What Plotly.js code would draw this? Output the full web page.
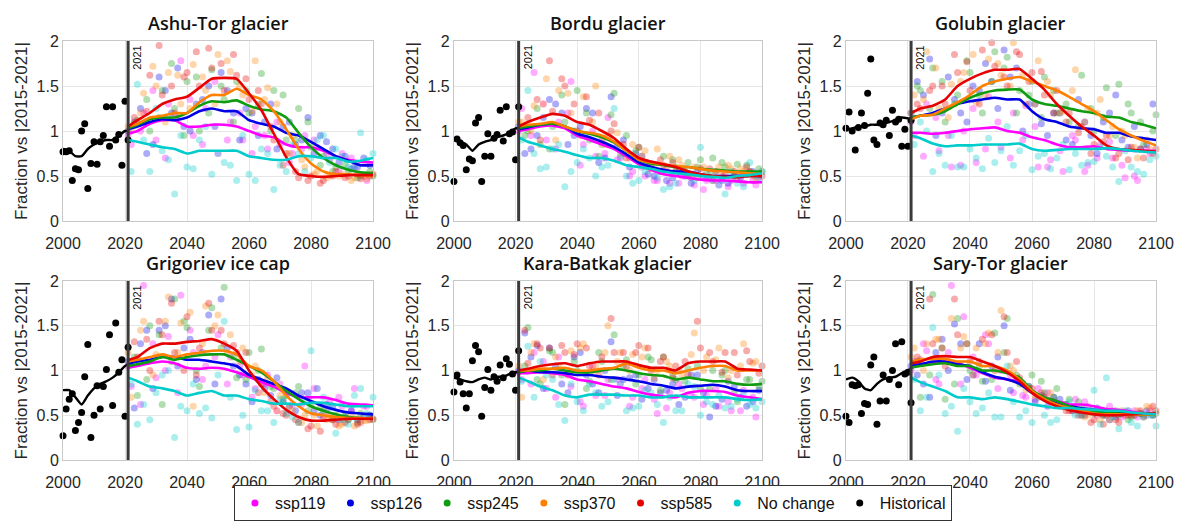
<!DOCTYPE html>
<html><head><meta charset="utf-8">
<script src="https://cdn.plot.ly/plotly-3.0.1.min.js"></script>
<style>html,body{margin:0;padding:0;background:#fff}#chart{width:1180px;height:521px}</style>
</head><body><div id="chart"></div><script>
const glaciers = ['Ashu-Tor glacier','Bordu glacier','Golubin glacier','Grigoriev ice cap','Kara-Batkak glacier','Sary-Tor glacier'];
const scenarios = ['ssp119','ssp126','ssp245','ssp370','ssp585','No change'];
const histYears = [2000,2001,2002,2003,2004,2005,2006,2007,2008,2009,2010,2011,2012,2013,2014,2015,2016,2017,2018,2019,2020,2021];
const histLineYears = [2000,2002,2004,2006,2008,2010,2012,2014,2016,2018,2020,2021];
const lineYears = [2021,2024,2028,2032,2036,2040,2044,2048,2052,2056,2060,2064,2068,2072,2076,2080,2084,2088,2092,2096,2100];
const yrsA = [2022,2026,2030,2034,2038,2042,2046,2050,2054,2058,2062,2066,2070,2074,2078,2082,2086,2090,2094,2098];
const yrsB = [2023,2027,2031,2035,2039,2043,2047,2051,2055,2059,2063,2067,2071,2075,2079,2083,2087,2091,2095,2099];
const yrsC = [2024,2028,2032,2036,2040,2044,2048,2052,2056,2060,2064,2068,2072,2076,2080,2084,2088,2092,2096,2100];
const yrsD = [2021,2025,2029,2033,2037,2041,2045,2049,2053,2057,2061,2065,2069,2073,2077,2081,2085,2089,2093,2097];
const xTicks = [2000,2020,2040,2060,2080,2100];
const yTicks = [0,0.5,1,1.5,2];

const hist_dots = [
 [0.77,0.77,0.78,0.45,0.58,0.57,1.0,1.08,0.36,0.64,0.88,0.63,0.88,0.95,1.27,0.83,1.27,0.9,0.96,0.62,1.33,0.9],
 [0.44,0.91,0.87,0.84,0.57,0.69,0.67,1.09,1.15,0.44,0.72,0.97,0.72,0.92,0.96,1.23,0.89,1.27,0.97,0.99,0.68,1.27],
 [1.03,1.21,1.0,0.79,1.04,1.2,1.06,1.42,1.8,0.9,0.85,1.09,1.07,1.12,0.95,1.23,1.1,1.13,0.83,1.02,0.83,1.12],
 [0.27,0.57,0.68,0.74,0.33,0.42,0.53,0.93,1.29,0.25,0.5,0.83,0.57,0.82,1.01,1.4,0.61,1.53,0.98,1.12,0.49,1.26],
 [0.76,0.95,0.87,0.74,0.58,0.74,1.11,1.28,1.21,0.49,0.81,1.01,0.78,0.93,0.88,1.06,0.92,1.13,1.07,0.96,0.78,1.22],
 [0.49,0.42,0.84,0.83,0.84,0.52,0.63,0.62,1.06,1.15,0.4,0.66,0.95,0.66,0.9,1.0,1.3,0.84,1.32,0.96,0.98,0.64]
];
const hist_line = [
 [0.8,0.78,0.72,0.72,0.8,0.85,0.88,0.9,0.9,0.95,1.0,1.0],
 [0.9,0.88,0.85,0.78,0.85,0.88,0.9,0.93,0.95,0.98,1.03,1.03],
 [1.02,1.03,1.05,1.05,1.07,1.07,1.08,1.1,1.12,1.15,1.14,1.13],
 [0.78,0.78,0.7,0.62,0.72,0.8,0.85,0.88,0.92,0.98,1.05,1.07],
 [0.92,0.9,0.88,0.87,0.9,0.92,0.9,0.93,0.93,0.96,0.98,0.98],
 [0.9,0.92,0.88,0.8,0.78,0.85,0.9,0.92,0.93,0.97,1.0,1.02]
];

const line_ssp119 = [
 [0.97,1.0,1.08,1.12,1.12,1.05,1.05,1.07,1.07,1.05,1.0,0.95,0.93,0.85,0.82,0.82,0.78,0.72,0.68,0.66,0.65],
 [1.0,1.02,1.05,1.06,1.03,0.95,0.9,0.85,0.8,0.72,0.63,0.57,0.52,0.5,0.48,0.46,0.45,0.45,0.44,0.43,0.43],
 [0.98,0.98,0.97,0.98,1.0,1.02,1.03,1.04,1.0,0.98,0.93,0.9,0.85,0.82,0.82,0.83,0.8,0.79,0.78,0.78,0.78],
 [1.03,1.05,1.08,1.1,1.08,1.03,1.02,1.03,1.02,0.98,0.93,0.87,0.82,0.75,0.7,0.7,0.7,0.67,0.63,0.62,0.61],
 [0.97,0.97,0.98,0.97,0.95,0.9,0.88,0.85,0.82,0.8,0.76,0.73,0.71,0.7,0.75,0.77,0.77,0.76,0.72,0.7,0.68],
 [1.05,1.07,1.08,1.1,1.08,1.03,0.97,0.92,0.9,0.87,0.77,0.7,0.66,0.62,0.62,0.6,0.57,0.56,0.54,0.52,0.51]
];
const line_ssp126 = [
 [1.02,1.05,1.1,1.13,1.12,1.15,1.22,1.25,1.22,1.22,1.12,1.08,1.05,0.98,0.95,0.88,0.8,0.72,0.67,0.62,0.62],
 [1.02,1.04,1.07,1.08,1.05,0.97,0.93,0.88,0.82,0.74,0.65,0.6,0.57,0.55,0.55,0.52,0.5,0.5,0.5,0.5,0.5],
 [1.15,1.17,1.2,1.25,1.3,1.33,1.35,1.37,1.35,1.35,1.22,1.13,1.1,1.05,1.03,1.02,0.98,0.98,0.94,0.92,0.9],
 [1.07,1.1,1.12,1.15,1.15,1.12,1.12,1.1,1.08,1.05,0.95,0.9,0.85,0.8,0.72,0.66,0.6,0.56,0.53,0.52,0.51],
 [0.98,1.0,0.98,0.98,0.97,0.95,0.95,0.93,0.92,0.9,0.88,0.85,0.83,0.8,0.82,0.83,0.84,0.82,0.78,0.77,0.77],
 [1.05,1.07,1.1,1.1,1.07,1.05,0.98,0.93,0.9,0.85,0.75,0.68,0.63,0.6,0.58,0.56,0.55,0.53,0.52,0.51,0.51]
];
const line_ssp245 = [
 [1.03,1.07,1.13,1.15,1.15,1.2,1.28,1.33,1.32,1.34,1.28,1.24,1.22,1.15,0.98,0.82,0.7,0.62,0.57,0.54,0.53],
 [1.03,1.05,1.07,1.08,1.05,1.0,0.97,0.93,0.87,0.78,0.68,0.64,0.62,0.6,0.6,0.58,0.57,0.56,0.55,0.55,0.55],
 [1.15,1.17,1.18,1.22,1.3,1.37,1.42,1.45,1.46,1.46,1.35,1.3,1.28,1.25,1.22,1.2,1.16,1.15,1.1,1.07,1.03],
 [1.05,1.07,1.1,1.15,1.12,1.15,1.17,1.18,1.18,1.12,1.05,0.98,0.88,0.77,0.68,0.6,0.55,0.51,0.48,0.47,0.46],
 [0.98,1.0,1.0,1.02,1.0,0.98,0.98,1.0,1.02,1.0,0.97,0.95,0.94,0.9,0.92,0.9,0.88,0.88,0.85,0.84,0.85],
 [1.03,1.05,1.07,1.08,1.05,1.05,1.0,1.0,0.97,0.92,0.78,0.7,0.66,0.6,0.56,0.54,0.53,0.52,0.51,0.51,0.51]
];
const line_ssp370 = [
 [1.05,1.08,1.15,1.17,1.2,1.2,1.32,1.4,1.4,1.47,1.4,1.35,1.22,1.02,0.8,0.64,0.55,0.52,0.52,0.51,0.5],
 [1.05,1.07,1.08,1.1,1.05,1.0,0.98,0.95,0.88,0.78,0.68,0.65,0.63,0.61,0.6,0.58,0.56,0.55,0.54,0.53,0.52],
 [1.13,1.17,1.18,1.25,1.32,1.4,1.5,1.55,1.58,1.6,1.55,1.5,1.45,1.38,1.3,1.22,1.12,1.02,0.95,0.89,0.84],
 [1.1,1.12,1.15,1.18,1.15,1.18,1.2,1.22,1.22,1.18,1.05,1.0,0.88,0.72,0.6,0.52,0.5,0.48,0.47,0.47,0.46],
 [1.0,1.0,1.02,1.02,1.03,1.0,1.0,1.02,1.03,1.08,1.03,1.0,1.0,0.97,1.0,1.03,1.05,1.05,1.0,1.0,1.0],
 [1.1,1.12,1.13,1.13,1.1,1.1,1.05,1.05,1.0,0.9,0.77,0.68,0.62,0.58,0.55,0.52,0.51,0.51,0.51,0.51,0.51]
];
const line_ssp585 = [
 [1.05,1.12,1.2,1.3,1.35,1.38,1.48,1.58,1.59,1.58,1.42,1.23,0.97,0.71,0.52,0.5,0.49,0.5,0.51,0.51,0.51],
 [1.05,1.1,1.15,1.19,1.17,1.1,1.07,1.0,0.92,0.8,0.7,0.66,0.63,0.6,0.55,0.52,0.5,0.49,0.49,0.5,0.5],
 [1.2,1.25,1.28,1.35,1.5,1.58,1.64,1.68,1.68,1.69,1.58,1.46,1.3,1.17,1.05,0.95,0.84,0.8,0.79,0.78,0.77],
 [1.12,1.15,1.25,1.3,1.3,1.32,1.33,1.35,1.3,1.22,1.0,0.82,0.68,0.56,0.48,0.44,0.44,0.45,0.46,0.46,0.46],
 [1.0,1.02,1.05,1.07,1.08,1.05,1.08,1.1,1.1,1.1,1.06,1.03,1.03,1.0,1.08,1.1,1.1,1.1,1.02,1.01,1.0],
 [1.08,1.1,1.15,1.16,1.15,1.15,1.1,1.05,0.98,0.88,0.75,0.66,0.6,0.56,0.53,0.51,0.5,0.5,0.51,0.52,0.52]
];
const line_none = [
 [0.9,0.88,0.85,0.82,0.8,0.75,0.78,0.78,0.78,0.78,0.72,0.7,0.68,0.68,0.72,0.72,0.7,0.7,0.66,0.67,0.7],
 [0.93,0.88,0.84,0.8,0.77,0.73,0.7,0.7,0.67,0.62,0.6,0.58,0.55,0.53,0.52,0.5,0.49,0.48,0.5,0.51,0.53],
 [0.95,0.92,0.86,0.83,0.84,0.84,0.85,0.85,0.85,0.86,0.8,0.78,0.79,0.8,0.8,0.8,0.81,0.8,0.78,0.77,0.76],
 [0.92,0.88,0.82,0.8,0.77,0.72,0.75,0.77,0.72,0.72,0.68,0.66,0.63,0.63,0.62,0.64,0.64,0.62,0.6,0.6,0.6],
 [0.92,0.88,0.82,0.78,0.72,0.7,0.73,0.73,0.73,0.72,0.72,0.7,0.7,0.72,0.7,0.7,0.7,0.7,0.68,0.67,0.68],
 [0.92,0.87,0.82,0.77,0.7,0.7,0.68,0.7,0.68,0.65,0.62,0.6,0.58,0.58,0.57,0.56,0.55,0.55,0.53,0.52,0.51]
];

const dots_ssp119 = [
 [0.85,1.2,0.9,1.3,1.78,0.95,1.25,0.75,1.1,0.9,1.05,0.8,0.85,0.75,0.95,0.82,0.68,0.75,0.6,0.45],
 [1.25,1.65,0.9,1.1,1.55,0.85,0.72,1.15,0.7,0.55,0.5,0.45,0.42,0.5,0.4,0.45,0.4,0.45,0.42,0.4],
 [0.95,1.3,0.78,0.6,1.0,0.65,1.38,0.82,1.2,1.28,0.6,0.68,0.55,0.9,0.62,0.85,0.7,0.48,0.45,0.75],
 [0.82,1.95,0.92,1.38,1.84,1.2,1.05,1.4,1.15,0.95,0.8,0.95,0.85,0.62,1.05,0.8,0.65,0.6,0.8,0.6],
 [0.9,1.2,0.8,1.15,0.82,0.6,0.72,0.9,0.85,0.7,0.9,0.52,0.75,0.8,0.7,0.72,0.6,0.55,0.78,0.48],
 [1.1,1.22,0.85,1.95,1.6,0.95,1.3,1.0,0.75,0.7,0.8,0.65,0.62,0.68,0.6,0.52,0.55,0.5,0.48,0.55]
];
const dots_ssp126 = [
 [1.1,0.75,1.6,1.2,1.05,1.3,1.5,1.65,1.2,1.25,0.95,1.3,1.05,0.85,1.15,0.95,0.8,0.72,0.6,0.62],
 [0.75,0.95,1.35,1.2,0.95,1.25,0.65,1.38,0.9,0.75,0.52,0.55,0.48,0.5,0.55,0.48,0.45,0.5,0.52,0.48],
 [1.55,1.8,1.2,1.35,1.1,1.45,1.55,1.9,1.7,1.3,1.08,1.2,0.9,1.35,0.95,1.1,1.4,0.82,0.8,1.3],
 [0.58,1.45,1.45,1.8,1.25,0.9,1.62,1.8,1.05,0.85,0.9,0.72,0.65,0.55,0.75,0.5,0.6,0.48,0.45,0.5],
 [1.42,1.28,1.25,0.85,1.15,0.95,0.75,1.32,0.9,0.95,0.8,0.75,0.85,0.7,0.95,0.48,0.68,0.82,0.6,0.78],
 [0.95,0.7,1.35,1.52,0.9,1.3,1.05,1.5,0.9,0.82,0.72,0.7,0.62,0.55,0.55,0.5,0.48,0.55,0.52,0.5]
];
const dots_ssp245 = [
 [1.12,1.0,1.45,1.25,1.55,1.0,1.68,1.35,1.55,1.2,1.64,1.45,0.9,1.25,0.82,0.72,0.6,0.55,0.5,0.5],
 [1.0,0.85,1.05,1.1,1.45,0.9,0.85,1.42,0.95,0.82,0.62,0.72,0.6,0.65,0.68,0.7,0.6,0.63,0.55,0.55],
 [1.45,1.7,1.1,1.4,1.65,1.2,1.88,1.82,1.45,1.55,1.6,1.2,1.1,1.62,1.0,1.48,1.52,1.2,0.85,1.18],
 [0.72,1.5,0.62,1.8,1.48,0.82,1.7,1.93,0.92,1.2,1.24,0.8,0.72,0.82,0.62,0.55,0.5,0.45,0.52,0.45],
 [1.48,0.85,1.2,0.62,1.0,0.88,1.1,1.4,1.12,0.95,1.12,1.15,0.9,1.02,0.8,1.0,1.0,0.65,0.9,0.88],
 [0.7,1.85,0.68,1.58,1.0,0.88,1.42,1.58,0.85,0.95,0.75,0.8,0.68,0.58,0.52,0.55,0.5,0.48,0.5,0.52]
];
const dots_ssp370 = [
 [1.0,1.42,1.5,1.65,1.3,1.74,1.45,1.85,1.66,1.4,1.78,1.48,1.1,0.95,0.6,0.55,0.5,0.52,0.48,0.47],
 [1.1,1.28,1.58,1.45,1.2,1.38,1.5,0.95,0.75,0.85,0.78,0.8,0.72,0.62,0.6,0.55,0.6,0.58,0.55,0.48],
 [1.4,1.88,1.25,1.52,1.65,1.32,1.8,1.62,1.98,1.3,1.78,1.4,1.22,1.68,1.25,1.35,1.05,0.95,0.7,0.8],
 [0.7,1.55,1.18,1.82,1.53,0.6,1.72,1.62,1.4,1.25,1.05,0.9,0.72,0.55,0.5,0.38,0.5,0.4,0.38,0.44],
 [0.7,1.3,1.0,1.05,1.22,1.3,1.05,1.5,1.2,1.18,1.25,1.0,1.05,0.95,1.42,1.15,1.25,1.0,1.3,1.1],
 [1.25,1.3,1.35,1.58,1.38,1.25,1.42,1.67,1.0,0.78,0.7,0.75,0.62,0.6,0.5,0.45,0.52,0.5,0.55,0.58]
];
const dots_ssp585 = [
 [1.15,1.22,1.95,1.5,1.6,1.88,1.92,1.75,1.85,1.58,1.45,1.05,0.62,0.55,0.45,0.42,0.5,0.48,0.52,0.5],
 [1.05,1.35,1.78,1.58,1.3,1.38,1.2,1.0,0.85,0.7,0.62,0.68,0.65,0.55,0.48,0.58,0.5,0.55,0.6,0.52],
 [1.3,1.45,1.5,1.85,1.77,1.3,1.98,1.6,1.88,1.55,1.66,1.2,1.1,0.98,0.75,0.88,0.7,0.68,0.8,0.75],
 [1.32,1.35,1.55,1.75,1.0,0.95,1.75,1.45,1.28,1.2,0.75,0.65,0.52,0.45,0.35,0.32,0.45,0.42,0.4,0.45],
 [1.45,1.3,1.25,1.28,1.18,1.25,0.95,1.58,1.2,1.2,1.25,1.1,0.92,1.1,1.55,1.2,0.98,1.2,1.22,0.97],
 [1.15,1.8,1.25,1.8,1.3,1.1,1.4,1.6,1.1,0.8,0.75,0.65,0.55,0.5,0.42,0.4,0.45,0.5,0.55,0.6]
];
const dots_none = [
 [1.52,0.55,0.78,0.3,0.6,0.9,0.52,0.65,0.45,0.52,0.8,0.35,0.55,0.75,0.7,0.95,0.8,0.6,0.98,0.75],
 [1.45,0.58,0.8,0.38,0.65,0.7,0.6,1.25,0.5,0.45,0.6,0.35,0.42,0.5,0.82,0.45,0.3,0.42,0.65,0.55],
 [1.1,0.55,0.62,0.6,0.8,0.58,0.65,1.05,0.78,0.57,0.75,0.7,0.57,0.62,0.66,0.72,0.44,0.6,0.52,0.72],
 [0.4,0.45,0.95,0.25,0.55,0.52,0.47,1.55,0.34,0.37,0.55,0.42,0.52,0.42,1.22,0.7,0.3,0.4,0.8,0.7],
 [1.27,1.1,0.9,0.44,0.65,0.85,0.6,0.9,0.55,0.6,0.75,0.42,0.55,0.85,0.5,0.62,0.58,0.68,0.62,0.65],
 [0.55,1.48,0.52,0.32,0.65,0.58,0.48,1.05,0.48,0.42,0.5,0.45,0.65,0.5,0.78,0.92,0.35,0.42,0.48,0.38]
];

const dots2_ssp119 = [
 [0.95,1.0,1.45,0.7,1.15,1.35,0.85,1.55,0.9,1.2,0.75,0.95,1.1,0.65,0.8,0.9,0.75,0.55,0.7,0.5],
 [1.0,0.95,1.3,0.8,1.2,0.62,1.0,0.75,0.68,0.5,0.6,0.45,0.55,0.42,0.48,0.35,0.45,0.38,0.5,0.45],
 [1.1,0.72,1.15,0.95,0.62,1.25,0.8,1.1,0.7,0.9,1.05,0.6,0.78,0.95,0.55,0.7,0.88,0.62,0.5,0.8],
 [1.05,0.62,1.3,1.0,0.75,1.45,0.9,1.15,0.85,1.05,0.7,0.85,0.55,0.75,0.62,0.8,0.55,0.7,0.55,0.6],
 [0.98,0.85,1.1,0.7,0.95,0.65,1.05,0.72,0.9,0.6,0.8,0.68,0.58,0.85,0.72,0.62,0.8,0.65,0.55,0.7],
 [1.0,1.3,0.9,1.2,0.85,1.15,1.4,0.8,0.95,0.72,0.68,0.75,0.6,0.55,0.65,0.5,0.6,0.48,0.55,0.5]
];
const dots2_ssp126 = [
 [1.0,1.25,0.85,1.45,1.7,1.0,1.35,1.05,1.45,0.9,1.2,1.1,0.8,1.1,0.9,0.75,0.88,0.65,0.58,0.7],
 [1.05,0.8,1.15,1.3,0.85,1.05,1.2,0.7,0.85,0.6,0.72,0.5,0.45,0.55,0.42,0.5,0.55,0.42,0.48,0.55],
 [1.2,1.4,0.95,1.6,1.2,1.5,1.75,1.25,1.6,1.0,1.3,0.95,1.2,0.85,1.1,0.75,1.2,0.9,1.05,0.85],
 [1.1,1.3,0.8,1.5,1.05,1.35,1.2,0.85,1.25,0.95,0.65,0.8,0.92,0.6,0.75,0.55,0.62,0.45,0.55,0.48],
 [1.0,1.15,0.8,1.05,0.75,1.2,0.85,1.0,0.72,0.92,0.68,0.9,0.78,0.62,0.95,0.75,0.6,0.88,0.7,0.65],
 [1.05,0.85,1.2,1.0,1.3,0.95,0.88,1.15,0.78,0.85,0.65,0.6,0.68,0.55,0.5,0.58,0.45,0.52,0.5,0.55]
];
const dots2_ssp245 = [
 [1.08,1.35,1.15,1.75,0.95,1.6,1.2,1.5,1.1,1.45,1.3,1.0,1.4,0.9,1.1,0.62,0.55,0.62,0.48,0.55],
 [0.95,1.25,0.8,1.4,1.0,1.2,0.72,1.18,0.75,0.78,0.6,0.55,0.68,0.55,0.6,0.52,0.65,0.5,0.62,0.58],
 [1.5,1.25,1.55,1.3,1.78,1.4,1.55,1.7,1.2,1.4,1.15,1.45,1.3,1.05,1.25,1.15,0.95,1.3,1.1,1.0],
 [1.15,0.9,1.4,1.1,1.55,1.0,1.45,1.25,1.15,0.9,1.0,0.82,0.68,0.75,0.55,0.6,0.45,0.5,0.42,0.5],
 [1.05,0.9,1.22,0.95,1.1,0.8,1.2,0.9,1.05,0.85,1.15,0.78,0.95,0.88,1.05,0.8,0.95,0.75,0.9,0.82],
 [1.1,0.95,1.25,0.85,1.3,1.05,0.9,1.2,0.95,0.82,0.88,0.7,0.62,0.65,0.55,0.5,0.55,0.45,0.52,0.5]
];
const dots2_ssp370 = [
 [1.05,1.2,1.72,1.1,1.62,1.25,1.6,1.3,1.78,1.5,1.22,1.35,1.3,0.75,0.68,0.52,0.48,0.5,0.45,0.5],
 [1.1,1.0,1.3,0.9,1.42,0.95,1.1,0.85,0.98,0.7,0.72,0.62,0.58,0.68,0.52,0.6,0.55,0.62,0.58,0.5],
 [1.2,1.35,1.7,1.15,1.55,1.85,1.4,1.75,1.5,1.62,1.3,1.55,1.2,1.45,1.1,1.2,0.95,1.0,0.82,0.9],
 [1.2,1.45,0.95,1.55,1.2,1.65,1.3,1.5,1.2,1.1,0.95,0.75,0.55,0.6,0.42,0.5,0.45,0.38,0.5,0.44],
 [1.05,1.2,0.9,1.15,0.95,1.25,1.0,1.2,1.1,1.0,1.15,0.92,1.1,1.0,1.18,1.0,1.12,0.92,1.05,1.08],
 [1.15,1.0,1.35,1.1,1.25,0.95,1.3,1.2,1.05,0.85,0.72,0.68,0.6,0.55,0.48,0.52,0.45,0.55,0.5,0.6]
];
const dots2_ssp585 = [
 [1.08,1.62,1.4,1.2,1.65,1.5,1.7,1.45,1.62,1.35,1.3,0.9,0.75,0.48,0.5,0.45,0.55,0.5,0.47,0.52],
 [1.15,0.9,1.22,1.5,1.0,1.12,0.9,1.08,0.7,0.82,0.58,0.62,0.55,0.5,0.58,0.45,0.52,0.48,0.55,0.5],
 [1.25,1.5,1.3,1.65,1.45,1.9,1.72,1.5,1.85,1.65,1.4,1.45,1.2,1.05,0.85,0.95,0.75,0.82,0.7,0.8],
 [1.15,1.0,1.4,1.2,1.6,1.25,1.45,1.3,1.2,0.95,0.85,0.6,0.5,0.42,0.38,0.48,0.4,0.45,0.42,0.46],
 [1.08,1.25,0.95,1.2,1.3,1.05,1.15,1.2,1.05,1.28,1.0,1.15,1.05,0.95,1.25,1.1,1.2,0.95,1.1,1.05],
 [1.12,1.3,1.05,1.4,1.1,1.35,1.0,1.2,0.92,0.8,0.7,0.62,0.55,0.5,0.45,0.5,0.42,0.5,0.48,0.55]
];
const dots2_none = [
 [0.55,0.9,1.25,0.68,0.95,0.58,1.05,0.75,0.62,0.95,0.45,0.75,0.62,0.85,0.55,0.9,0.65,0.72,0.6,0.68],
 [0.9,0.75,0.6,0.85,0.55,0.8,0.5,0.62,0.72,0.42,0.55,0.48,0.38,0.55,0.45,0.52,0.4,0.55,0.38,0.5],
 [0.85,1.0,0.75,0.95,0.6,0.7,0.92,0.78,0.62,0.95,0.72,0.58,0.85,0.75,0.65,0.82,0.6,0.78,0.55,0.68],
 [0.85,0.62,0.75,1.0,0.6,0.85,0.58,0.95,0.7,0.5,0.78,0.55,0.68,0.48,0.65,0.8,0.58,0.45,0.72,0.52],
 [0.88,0.7,0.95,0.62,0.85,0.55,0.75,0.65,0.85,0.58,0.78,0.62,0.7,0.55,0.82,0.65,0.72,0.6,0.75,0.58],
 [0.9,0.7,0.95,0.6,0.8,0.52,0.75,0.48,0.65,0.55,0.7,0.42,0.6,0.5,0.55,0.4,0.48,0.55,0.38,0.5]
];

const colors = ['#ff00ff','#0000e6','#109c10','#ff8000','#e60000','#00cccc'];
const lineSets = [line_ssp119,line_ssp126,line_ssp245,line_ssp370,line_ssp585,line_none];
const dotSets = [dots_ssp119,dots_ssp126,dots_ssp245,dots_ssp370,dots_ssp585,dots_none];
const dotSets2 = [dots2_ssp119,dots2_ssp126,dots2_ssp245,dots2_ssp370,dots2_ssp585,dots2_none];
const dotYears = [yrsA,yrsB,yrsC,yrsA,yrsB,yrsC];
const dotYears2 = [yrsD,yrsD,yrsB,yrsD,yrsC,yrsA];

const colDom = [[0.0534,0.3161],[0.3847,0.6458],[0.7169,0.9797]];
const rowDom = [[0.5758,0.9213],[0.1171,0.4607]];
const FONT = 'Liberation Sans, Arial, Helvetica, sans-serif';

const traces = [];
const layout = {
  width:1180, height:521, margin:{l:0,r:0,t:0,b:0},
  paper_bgcolor:'#fff', plot_bgcolor:'#fff',
  font:{family:FONT, color:'#262626'},
  showlegend:true,
  legend:{orientation:'h', x:0.5025, xanchor:'center', y:0, yanchor:'bottom',
    bordercolor:'#333', borderwidth:1, font:{size:16, color:'#111'}, bgcolor:'#fff'},
  annotations:[], shapes:[]
};

for (let p=0;p<6;p++){
  const s = p===0?'':String(p+1);
  const xa='x'+s, ya='y'+s;
  for (let k=0;k<6;k++){
    traces.push({x:dotYears[k].concat(dotYears2[k]), y:dotSets[k][p].concat(dotSets2[k][p]), xaxis:xa, yaxis:ya,
      type:'scatter', mode:'markers',
      marker:{color:colors[k], size:7, opacity:0.33}, showlegend:false, hoverinfo:'skip', cliponaxis:false});
  }
  traces.push({x:histYears, y:hist_dots[p], xaxis:xa, yaxis:ya, type:'scatter', mode:'markers',
    marker:{color:'#000', size:7}, showlegend:false, hoverinfo:'skip', cliponaxis:false});
  for (const k of [0,1,2,3,4,5]){
    traces.push({x:lineYears, y:lineSets[k][p], xaxis:xa, yaxis:ya, type:'scatter', mode:'lines',
      line:{color:colors[k], width:2.6, shape:'spline', smoothing:0.5}, showlegend:false, hoverinfo:'skip'});
  }
  traces.push({x:histLineYears, y:hist_line[p], xaxis:xa, yaxis:ya, type:'scatter', mode:'lines',
    line:{color:'#000', width:2.4, shape:'spline', smoothing:0.5}, showlegend:false, hoverinfo:'skip'});

  const cd = colDom[p%3], rd = rowDom[Math.floor(p/3)];
  layout['xaxis'+s] = {domain:cd, anchor:ya, range:[2000,2100], tickvals:xTicks, ticktext:xTicks.map(String),
    showgrid:true, gridcolor:'#e6e6e6', gridwidth:1, zeroline:false, showline:true, linecolor:'#c8c8c8', linewidth:1,
    mirror:true, ticks:'', ticklabelstandoff:8, tickfont:{size:16, family:FONT, color:'#262626'}, fixedrange:true};
  layout['yaxis'+s] = {domain:rd, anchor:xa, range:[0,2], tickvals:yTicks, ticktext:['0','0.5','1','1.5','2'],
    showgrid:true, gridcolor:'#e6e6e6', gridwidth:1, zeroline:false, showline:true, linecolor:'#c8c8c8', linewidth:1,
    mirror:true, ticks:'', tickfont:{size:16, family:FONT, color:'#262626'}, fixedrange:true,
    title:{text:'Fraction vs |2015-2021|', font:{size:17, family:FONT, color:'#262626'}, standoff:4}};
  layout.shapes.push({type:'line', xref:xa, yref:ya+' domain', x0:2021, x1:2021, y0:0, y1:1,
    line:{color:'#3a3a3a', width:3}});
  layout.annotations.push({xref:xa, yref:ya+' domain', x:2021, y:0.985, xanchor:'left', yanchor:'top',
    xshift:1, text:'2021', textangle:-90, showarrow:false, font:{size:11, family:FONT, color:'#111'}});
  layout.annotations.push({xref:'paper', yref:'paper', x:(cd[0]+cd[1])/2, xanchor:'center', y:rd[1], yanchor:'bottom', yshift:4,
    text:glaciers[p], showarrow:false, font:{size:18, family:'Open Sans, Liberation Sans, sans-serif', color:'#111', weight:600}});
}

const legendNames = ['ssp119','ssp126','ssp245','ssp370','ssp585','No change','Historical'];
const legendColors = colors.concat(['#000']);
for (let i=0;i<legendNames.length;i++){
  traces.push({x:[null], y:[null], xaxis:'x', yaxis:'y', type:'scatter', mode:'markers', name:legendNames[i],
    marker:{color:legendColors[i], size:7}, showlegend:true});
}

Plotly.newPlot('chart', traces, layout, {staticPlot:true, displayModeBar:false});
</script></body></html>
